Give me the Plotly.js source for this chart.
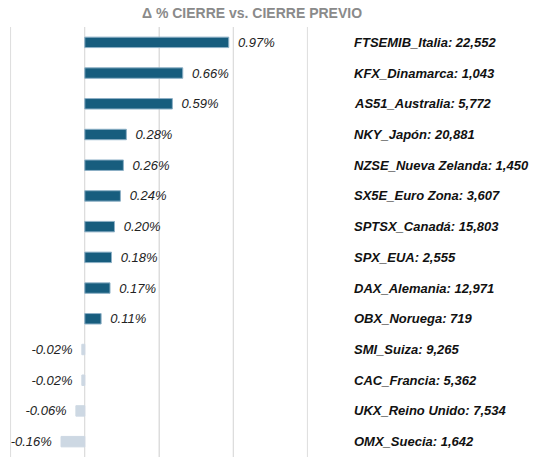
<!DOCTYPE html>
<html><head><meta charset="utf-8">
<script src="https://cdn.plot.ly/plotly-3.0.1.min.js"></script>
<style>html,body{margin:0;padding:0;background:#fff;}</style>
</head><body>
<div id="chart" style="width:534px;height:457px;"></div>
<script>
const categories = ["FTSEMIB_Italia: 22,552","KFX_Dinamarca: 1,043","AS51_Australia: 5,772","NKY_Japón: 20,881","NZSE_Nueva Zelanda: 1,450","SX5E_Euro Zona: 3,607","SPTSX_Canadá: 15,803","SPX_EUA: 2,555","DAX_Alemania: 12,971","OBX_Noruega: 719","SMI_Suiza: 9,265","CAC_Francia: 5,362","UKX_Reino Unido: 7,534","OMX_Suecia: 1,642"];
const changes = [0.97,0.66,0.59,0.28,0.26,0.24,0.20,0.18,0.17,0.11,-0.02,-0.02,-0.06,-0.16];
const gridTicks = [-0.5, 0, 0.5, 1.0, 1.5];
const pad = "\u00a0\u2009";
const valueLabels = changes.map(v => v >= 0 ? pad + v.toFixed(2) + "%" : v.toFixed(2) + "%" + pad);
const barColors = changes.map(v => v >= 0 ? "#175d7e" : "#cdd8e3");
const lineColors = changes.map(v => v >= 0 ? "#8db0c6" : "#cdd8e3");

const trace = {
  type: "bar", orientation: "h",
  x: changes, y: categories,
  text: valueLabels, textposition: "outside", cliponaxis: false, constraintext: "none",
  textfont: {family: "Liberation Sans, Arial, sans-serif", size: 13, color: "#222", style: "italic"},
  marker: {color: barColors, line: {color: lineColors, width: 1}},
  hoverinfo: "none"
};

const annotations = categories.map(c => ({
  xref: "paper", yref: "y", x: (352 - 10) / 298, y: c,
  xanchor: "left", yanchor: "middle", showarrow: false, text: c,
  font: {family: "Liberation Sans, Arial, sans-serif", size: 13, color: "#111", weight: "bold", style: "italic"}
}));

const shapes = gridTicks.map(t => ({
  type: "line", xref: "x", yref: "paper", x0: t, x1: t, y0: 0, y1: 1,
  line: {color: "#dddddd", width: 1}, layer: "below"
}));

const layout = {
  width: 534, height: 457,
  margin: {l: 10, r: 226, t: 27, b: 0},
  paper_bgcolor: "#fff", plot_bgcolor: "#fff",
  title: {text: "Δ % CIERRE vs. CIERRE PREVIO", xref: "container", x: 252/534, xanchor: "center", y: 1 - 13/457, yanchor: "middle",
    font: {family: "Liberation Sans, Arial, sans-serif", size: 14, color: "#8a8a8a", weight: "bold"}},
  xaxis: {range: [-0.504, 1.504], tickvals: gridTicks, showgrid: true, gridcolor: "#dddddd", gridwidth: 1,
    zeroline: true, zerolinecolor: "#dddddd", zerolinewidth: 1, showticklabels: false, ticks: "", showline: false, fixedrange: true},
  yaxis: {autorange: "reversed", showticklabels: false, ticks: "", showgrid: false, showline: false, zeroline: false},
  bargap: 0.66,
  showlegend: false,
  shapes: shapes,
  annotations: annotations
};

Plotly.newPlot("chart", [trace], layout, {displayModeBar: false, staticPlot: true});
</script>
</body></html>
